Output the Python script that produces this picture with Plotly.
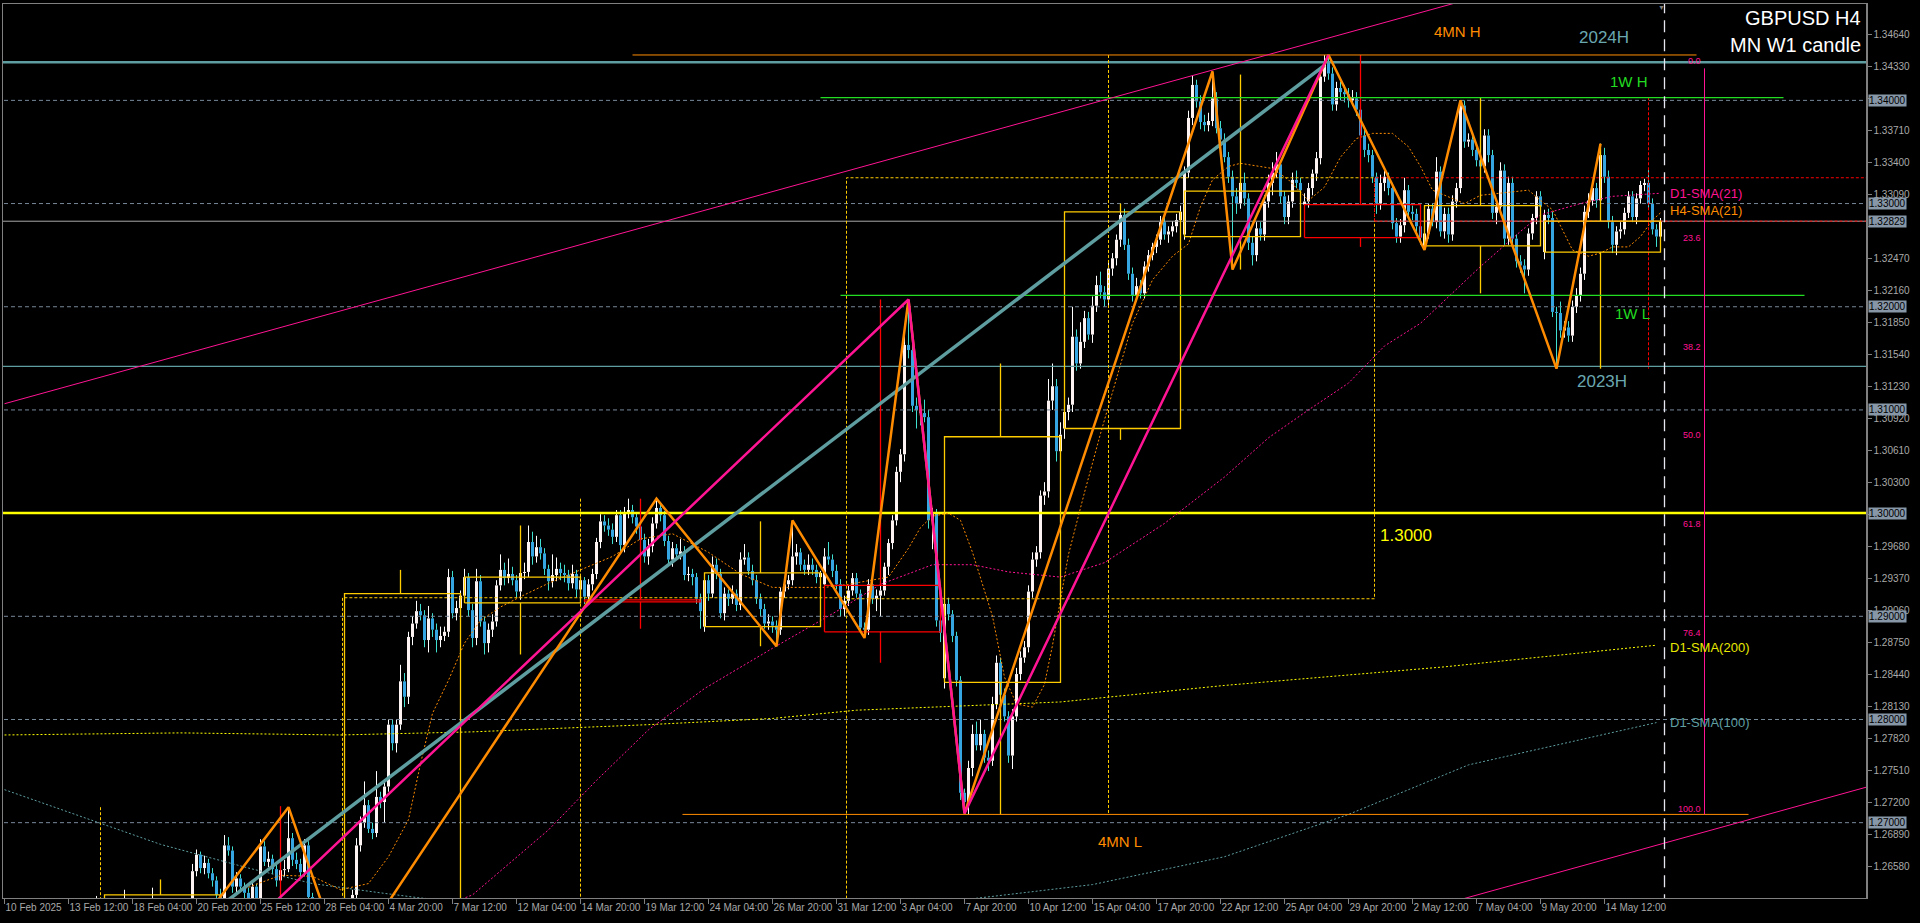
import plotly.graph_objects as go

# ---------------------------------------------------------------- data ----
FIRST_BAR = 20  # index of the first H4 bar in the lists below (bar 0 = "10 Feb 2025" tick)

opens = [
    1.2590,1.2598,1.2605,1.2612,1.2618,1.2608,1.2596,1.2590,1.2602,1.2610,
    1.2615,1.2620,1.2612,1.2600,1.2590,1.2582,1.2595,1.2608,1.2622,1.2610,
    1.2598,1.2580,1.2570,1.2585,1.2600,1.2612,1.2605,1.2620,1.2653,1.2669,
    1.2656,1.2661,1.2651,1.2644,1.2630,1.2620,1.2678,1.2673,1.2638,1.2646,
    1.2638,1.2632,1.2625,1.2638,1.2626,1.2677,1.2662,1.2665,1.2655,1.2644,
    1.2654,1.2655,1.2685,1.2664,1.2660,1.2652,1.2678,1.2628,1.2605,1.2595,
    1.2588,1.2600,1.2590,1.2578,1.2570,1.2565,1.2585,1.2610,1.2630,1.2678,
    1.2700,1.2717,1.2694,1.2690,1.2725,1.2720,1.2735,1.2795,1.2777,1.2795,
    1.2837,1.2822,1.2880,1.2893,1.2905,1.2901,1.2877,1.2898,1.2887,1.2877,
    1.2881,1.2885,1.2938,1.2903,1.2908,1.2920,1.2938,1.2906,1.2879,1.2934,
    1.2895,1.2874,1.2887,1.2895,1.2930,1.2945,1.2937,1.2941,1.2935,1.2924,
    1.2942,1.2943,1.2972,1.2958,1.2967,1.2961,1.2946,1.2934,1.2940,1.2946,
    1.2942,1.2940,1.2932,1.2941,1.2926,1.2935,1.2919,1.2931,1.2941,1.2972,
    1.2992,1.2988,1.2984,1.2977,1.2998,1.2969,1.3000,1.3003,1.2996,1.2987,
    1.2974,1.2958,1.2968,1.2990,1.3005,1.2998,1.2973,1.2955,1.2966,1.2960,
    1.2963,1.2940,1.2941,1.2938,1.2917,1.2890,1.2935,1.2922,1.2950,1.2941,
    1.2903,1.2922,1.2917,1.2922,1.2911,1.2955,1.2957,1.2944,1.2935,1.2917,
    1.2907,1.2893,1.2895,1.2891,1.2887,1.2924,1.2931,1.2935,1.2958,1.2962,
    1.2950,1.2945,1.2950,1.2945,1.2938,1.2931,1.2958,1.2955,1.2944,1.2931,
    1.2907,1.2915,1.2925,1.2937,1.2922,1.2889,1.2887,1.2931,1.2917,1.2920,
    1.2925,1.2948,1.2971,1.2993,1.3040,1.3057,1.3163,1.3158,1.3104,1.3100,
    1.3097,1.3093,1.2993,1.3000,1.2896,1.2840,1.2912,1.2902,1.2881,1.2838,
    1.2729,1.2720,1.2753,1.2786,1.2775,1.2786,1.2763,1.2760,1.2815,1.2855,
    1.2824,1.2803,1.2765,1.2803,1.2844,1.2860,1.2870,1.2924,1.2955,1.2962,
    1.3017,1.3021,1.3109,1.3123,1.3060,1.3082,1.3098,1.3105,1.3171,1.3145,
    1.3166,1.3189,1.3173,1.3201,1.3221,1.3214,1.3207,1.3237,1.3247,1.3265,
    1.3289,1.3260,1.3232,1.3211,1.3220,1.3213,1.3239,1.3250,1.3258,1.3265,
    1.3282,1.3270,1.3273,1.3278,1.3284,1.3270,1.3330,1.3383,1.3415,1.3399,
    1.3379,1.3376,1.3380,1.3402,1.3373,1.3362,1.3345,1.3326,1.3307,1.3300,
    1.3320,1.3305,1.3262,1.3250,1.3276,1.3270,1.3302,1.3320,1.3330,1.3338,
    1.3307,1.3287,1.3302,1.3323,1.3320,1.3299,1.3302,1.3315,1.3329,1.3344,
    1.3423,1.3437,1.3426,1.3396,1.3412,1.3408,1.3406,1.3400,1.3402,1.3391,
    1.3366,1.3352,1.3347,1.3326,1.3300,1.3320,1.3326,1.3315,1.3281,1.3268,
    1.3279,1.3313,1.3292,1.3290,1.3278,1.3259,1.3271,1.3295,1.3282,1.3331,
    1.3273,1.3290,1.3270,1.3302,1.3315,1.3395,1.3360,1.3362,1.3352,1.3342,
    1.3336,1.3366,1.3347,1.3291,1.3297,1.3332,1.3266,1.3320,1.3266,1.3244,
    1.3240,1.3236,1.3271,1.3286,1.3307,1.3253,1.3289,1.3286,1.3195,1.3194,
    1.3177,1.3180,1.3172,1.3200,1.3211,1.3232,1.3292,1.3303,1.3315,1.3303,
    1.3347,1.3326,1.3282,1.3260,1.3273,1.3275,1.3291,1.3307,1.3287,1.3305,
    1.3318,1.3320,1.3300,1.3275,1.3268,
]
highs = [
    1.2604,1.2610,1.2618,1.2629,1.2622,1.2612,1.2601,1.2607,1.2614,1.2620,
    1.2635,1.2624,1.2616,1.2604,1.2594,1.2599,1.2612,1.2637,1.2626,1.2615,
    1.2602,1.2586,1.2590,1.2605,1.2617,1.2616,1.2624,1.2660,1.2674,1.2672,
    1.2668,1.2665,1.2656,1.2648,1.2636,1.2688,1.2686,1.2677,1.2652,1.2650,
    1.2642,1.2637,1.2643,1.2641,1.2684,1.2682,1.2672,1.2669,1.2660,1.2660,
    1.2664,1.2715,1.2690,1.2671,1.2665,1.2684,1.2682,1.2632,1.2610,1.2600,
    1.2606,1.2605,1.2594,1.2582,1.2575,1.2592,1.2615,1.2635,1.2685,1.2706,
    1.2740,1.2722,1.2700,1.2750,1.2730,1.2742,1.2800,1.2800,1.2800,1.2853,
    1.2845,1.2885,1.2900,1.2915,1.2912,1.2906,1.2910,1.2903,1.2893,1.2890,
    1.2890,1.2946,1.2944,1.2915,1.2925,1.2946,1.2942,1.2912,1.2946,1.2940,
    1.2900,1.2893,1.2902,1.2935,1.2960,1.2952,1.2956,1.2948,1.2940,1.2948,
    1.2952,1.2988,1.2982,1.2978,1.2975,1.2966,1.2950,1.2960,1.2957,1.2952,
    1.2950,1.2945,1.2950,1.2945,1.2940,1.2938,1.2936,1.2946,1.2976,1.2999,
    1.2998,1.2995,1.2990,1.3003,1.3003,1.3006,1.3014,1.3008,1.3001,1.2994,
    1.2980,1.2975,1.2996,1.3014,1.3010,1.3002,1.2978,1.2972,1.2970,1.2975,
    1.2968,1.2948,1.2946,1.2942,1.2922,1.2942,1.2940,1.2958,1.2956,1.2946,
    1.2928,1.2926,1.2930,1.2926,1.2962,1.2970,1.2962,1.2950,1.2940,1.2922,
    1.2912,1.2902,1.2900,1.2896,1.2928,1.2936,1.2940,1.2993,1.2970,1.2966,
    1.2955,1.2960,1.2956,1.2950,1.2944,1.2966,1.2972,1.2960,1.2950,1.2936,
    1.2920,1.2930,1.2942,1.2942,1.2926,1.2894,1.2936,1.2936,1.2926,1.2930,
    1.2952,1.2975,1.2998,1.3045,1.3062,1.3180,1.3207,1.3165,1.3112,1.3106,
    1.3110,1.3100,1.3005,1.3004,1.2900,1.2935,1.2918,1.2906,1.2885,1.2842,
    1.2733,1.2760,1.2795,1.2798,1.2800,1.2790,1.2770,1.2822,1.2862,1.2860,
    1.2830,1.2808,1.2810,1.2850,1.2866,1.2876,1.2930,1.2962,1.2968,1.3022,
    1.3030,1.3130,1.3145,1.3130,1.3088,1.3104,1.3112,1.3200,1.3178,1.3185,
    1.3196,1.3195,1.3210,1.3230,1.3234,1.3220,1.3245,1.3252,1.3270,1.3300,
    1.3295,1.3266,1.3238,1.3228,1.3226,1.3244,1.3255,1.3262,1.3270,1.3288,
    1.3290,1.3278,1.3283,1.3290,1.3298,1.3336,1.3390,1.3424,1.3420,1.3405,
    1.3386,1.3388,1.3428,1.3408,1.3380,1.3368,1.3350,1.3332,1.3315,1.3335,
    1.3330,1.3310,1.3268,1.3282,1.3282,1.3308,1.3328,1.3340,1.3350,1.3342,
    1.3312,1.3308,1.3330,1.3332,1.3325,1.3310,1.3320,1.3333,1.3350,1.3430,
    1.3444,1.3444,1.3432,1.3418,1.3418,1.3415,1.3412,1.3410,1.3408,1.3396,
    1.3372,1.3358,1.3352,1.3330,1.3328,1.3332,1.3330,1.3320,1.3286,1.3285,
    1.3325,1.3318,1.3298,1.3295,1.3282,1.3276,1.3300,1.3300,1.3345,1.3336,
    1.3296,1.3296,1.3308,1.3320,1.3400,1.3400,1.3368,1.3368,1.3358,1.3356,
    1.3372,1.3372,1.3352,1.3300,1.3340,1.3338,1.3326,1.3326,1.3270,1.3250,
    1.3246,1.3276,1.3290,1.3312,1.3312,1.3294,1.3295,1.3292,1.3200,1.3205,
    1.3186,1.3186,1.3206,1.3218,1.3238,1.3298,1.3310,1.3322,1.3320,1.3358,
    1.3354,1.3332,1.3288,1.3278,1.3282,1.3296,1.3312,1.3312,1.3310,1.3322,
    1.3324,1.3333,1.3305,1.3280,1.3286,
]
lows = [
    1.2583,1.2592,1.2600,1.2606,1.2602,1.2590,1.2584,1.2586,1.2597,1.2604,
    1.2611,1.2606,1.2594,1.2584,1.2575,1.2578,1.2590,1.2603,1.2604,1.2592,
    1.2574,1.2562,1.2566,1.2580,1.2596,1.2598,1.2600,1.2615,1.2648,1.2651,
    1.2650,1.2646,1.2638,1.2624,1.2612,1.2616,1.2668,1.2632,1.2630,1.2633,
    1.2627,1.2620,1.2620,1.2621,1.2622,1.2658,1.2657,1.2650,1.2638,1.2640,
    1.2648,1.2652,1.2658,1.2655,1.2646,1.2648,1.2622,1.2598,1.2588,1.2582,
    1.2583,1.2585,1.2572,1.2563,1.2559,1.2560,1.2580,1.2605,1.2625,1.2672,
    1.2695,1.2690,1.2684,1.2686,1.2714,1.2700,1.2730,1.2770,1.2768,1.2790,
    1.2812,1.2815,1.2872,1.2888,1.2896,1.2870,1.2865,1.2880,1.2865,1.2870,
    1.2876,1.2880,1.2898,1.2896,1.2900,1.2915,1.2900,1.2870,1.2872,1.2890,
    1.2863,1.2865,1.2880,1.2890,1.2925,1.2930,1.2932,1.2930,1.2918,1.2916,
    1.2936,1.2938,1.2950,1.2952,1.2955,1.2940,1.2925,1.2928,1.2934,1.2935,
    1.2933,1.2925,1.2927,1.2918,1.2920,1.2912,1.2914,1.2925,1.2936,1.2966,
    1.2982,1.2978,1.2970,1.2972,1.2963,1.2962,1.2995,1.2990,1.2980,1.2966,
    1.2952,1.2950,1.2962,1.2985,1.2992,1.2968,1.2950,1.2948,1.2955,1.2955,
    1.2935,1.2934,1.2930,1.2912,1.2888,1.2885,1.2915,1.2918,1.2936,1.2898,
    1.2896,1.2910,1.2912,1.2905,1.2906,1.2950,1.2940,1.2930,1.2912,1.2900,
    1.2888,1.2887,1.2884,1.2871,1.2882,1.2918,1.2926,1.2930,1.2950,1.2944,
    1.2940,1.2940,1.2940,1.2932,1.2928,1.2925,1.2950,1.2938,1.2926,1.2900,
    1.2900,1.2910,1.2920,1.2918,1.2884,1.2879,1.2882,1.2912,1.2905,1.2900,
    1.2920,1.2940,1.2965,1.2988,1.3030,1.3050,1.3150,1.3098,1.3082,1.3085,
    1.3088,1.2985,1.2965,1.2890,1.2875,1.2830,1.2896,1.2875,1.2832,1.2722,
    1.2709,1.2708,1.2745,1.2770,1.2770,1.2758,1.2750,1.2755,1.2810,1.2818,
    1.2798,1.2758,1.2752,1.2798,1.2838,1.2855,1.2865,1.2918,1.2948,1.2956,
    1.3008,1.3015,1.3100,1.3050,1.3040,1.3072,1.3090,1.3098,1.3138,1.3140,
    1.3160,1.3168,1.3165,1.3195,1.3208,1.3200,1.3200,1.3230,1.3240,1.3258,
    1.3255,1.3226,1.3205,1.3205,1.3208,1.3208,1.3234,1.3245,1.3252,1.3260,
    1.3265,1.3262,1.3268,1.3272,1.3278,1.3265,1.3325,1.3376,1.3393,1.3372,
    1.3370,1.3370,1.3375,1.3368,1.3356,1.3340,1.3320,1.3236,1.3290,1.3295,
    1.3298,1.3255,1.3240,1.3244,1.3264,1.3264,1.3296,1.3308,1.3325,1.3300,
    1.3280,1.3280,1.3296,1.3315,1.3308,1.3290,1.3296,1.3308,1.3322,1.3338,
    1.3418,1.3420,1.3390,1.3390,1.3400,1.3398,1.3393,1.3395,1.3385,1.3360,
    1.3345,1.3340,1.3320,1.3290,1.3294,1.3312,1.3308,1.3275,1.3262,1.3262,
    1.3272,1.3285,1.3284,1.3272,1.3260,1.3255,1.3266,1.3278,1.3276,1.3268,
    1.3266,1.3262,1.3264,1.3296,1.3310,1.3354,1.3355,1.3346,1.3336,1.3320,
    1.3330,1.3340,1.3285,1.3280,1.3290,1.3260,1.3260,1.3260,1.3238,1.3233,
    1.3213,1.3230,1.3265,1.3280,1.3292,1.3246,1.3280,1.3190,1.3140,1.3170,
    1.3170,1.3166,1.3166,1.3194,1.3205,1.3226,1.3286,1.3298,1.3296,1.3298,
    1.3320,1.3276,1.3252,1.3250,1.3266,1.3270,1.3286,1.3282,1.3280,1.3300,
    1.3312,1.3295,1.3270,1.3258,1.3262,
]
closes = [
    1.2598,1.2605,1.2612,1.2618,1.2608,1.2596,1.2590,1.2602,1.2610,1.2615,
    1.2620,1.2612,1.2600,1.2590,1.2582,1.2595,1.2608,1.2622,1.2610,1.2598,
    1.2580,1.2570,1.2585,1.2600,1.2612,1.2605,1.2620,1.2653,1.2669,1.2656,
    1.2661,1.2651,1.2644,1.2630,1.2620,1.2678,1.2673,1.2638,1.2646,1.2638,
    1.2632,1.2625,1.2638,1.2626,1.2677,1.2662,1.2665,1.2655,1.2644,1.2654,
    1.2655,1.2685,1.2664,1.2660,1.2652,1.2678,1.2628,1.2605,1.2595,1.2588,
    1.2600,1.2590,1.2578,1.2570,1.2565,1.2585,1.2610,1.2630,1.2678,1.2700,
    1.2717,1.2694,1.2690,1.2725,1.2720,1.2735,1.2795,1.2777,1.2795,1.2837,
    1.2822,1.2880,1.2893,1.2905,1.2901,1.2877,1.2898,1.2887,1.2877,1.2881,
    1.2885,1.2938,1.2903,1.2908,1.2920,1.2938,1.2906,1.2879,1.2934,1.2895,
    1.2874,1.2887,1.2895,1.2930,1.2945,1.2937,1.2941,1.2935,1.2924,1.2942,
    1.2943,1.2972,1.2958,1.2967,1.2961,1.2946,1.2934,1.2940,1.2946,1.2942,
    1.2940,1.2932,1.2941,1.2926,1.2935,1.2919,1.2931,1.2941,1.2972,1.2992,
    1.2988,1.2984,1.2977,1.2998,1.2969,1.3000,1.3003,1.2996,1.2987,1.2974,
    1.2958,1.2968,1.2990,1.3005,1.2998,1.2973,1.2955,1.2966,1.2960,1.2963,
    1.2940,1.2941,1.2938,1.2917,1.2905,1.2935,1.2922,1.2950,1.2941,1.2903,
    1.2922,1.2917,1.2922,1.2911,1.2955,1.2957,1.2944,1.2935,1.2917,1.2907,
    1.2893,1.2895,1.2891,1.2887,1.2924,1.2931,1.2935,1.2958,1.2962,1.2950,
    1.2945,1.2950,1.2945,1.2938,1.2942,1.2958,1.2955,1.2944,1.2931,1.2907,
    1.2915,1.2925,1.2937,1.2922,1.2889,1.2887,1.2931,1.2917,1.2920,1.2925,
    1.2948,1.2971,1.2993,1.3040,1.3057,1.3163,1.3158,1.3104,1.3100,1.3097,
    1.3093,1.2993,1.3000,1.2896,1.2884,1.2912,1.2902,1.2881,1.2838,1.2729,
    1.2720,1.2753,1.2786,1.2775,1.2786,1.2763,1.2760,1.2815,1.2855,1.2824,
    1.2803,1.2765,1.2803,1.2844,1.2860,1.2870,1.2924,1.2955,1.2962,1.3017,
    1.3021,1.3109,1.3123,1.3060,1.3076,1.3098,1.3105,1.3171,1.3145,1.3166,
    1.3189,1.3173,1.3201,1.3221,1.3214,1.3207,1.3237,1.3247,1.3265,1.3289,
    1.3260,1.3232,1.3211,1.3220,1.3213,1.3239,1.3250,1.3258,1.3265,1.3282,
    1.3270,1.3273,1.3278,1.3284,1.3292,1.3330,1.3383,1.3415,1.3399,1.3379,
    1.3376,1.3380,1.3402,1.3373,1.3362,1.3345,1.3326,1.3307,1.3300,1.3320,
    1.3305,1.3262,1.3250,1.3276,1.3270,1.3302,1.3320,1.3330,1.3338,1.3307,
    1.3287,1.3302,1.3323,1.3320,1.3313,1.3302,1.3315,1.3329,1.3344,1.3423,
    1.3437,1.3426,1.3396,1.3412,1.3408,1.3406,1.3400,1.3402,1.3391,1.3366,
    1.3352,1.3347,1.3326,1.3300,1.3320,1.3326,1.3315,1.3281,1.3268,1.3279,
    1.3313,1.3292,1.3290,1.3278,1.3267,1.3271,1.3295,1.3282,1.3331,1.3273,
    1.3290,1.3270,1.3302,1.3315,1.3395,1.3360,1.3362,1.3352,1.3342,1.3336,
    1.3366,1.3347,1.3291,1.3297,1.3332,1.3266,1.3320,1.3266,1.3244,1.3240,
    1.3236,1.3271,1.3286,1.3307,1.3297,1.3289,1.3286,1.3195,1.3194,1.3177,
    1.3180,1.3172,1.3200,1.3211,1.3232,1.3292,1.3303,1.3315,1.3303,1.3347,
    1.3326,1.3282,1.3260,1.3273,1.3275,1.3291,1.3307,1.3287,1.3305,1.3318,
    1.3320,1.3300,1.3275,1.3268,1.3283,
]

time_tick_bars = list(range(0, 401, 16))
time_tick_labels = [
    "10 Feb 2025", "13 Feb 12:00", "18 Feb 04:00", "20 Feb 20:00", "25 Feb 12:00",
    "28 Feb 04:00", "4 Mar 20:00", "7 Mar 12:00", "12 Mar 04:00", "14 Mar 20:00",
    "19 Mar 12:00", "24 Mar 04:00", "26 Mar 20:00", "31 Mar 12:00", "3 Apr 04:00",
    "7 Apr 20:00", "10 Apr 12:00", "15 Apr 04:00", "17 Apr 20:00", "22 Apr 12:00",
    "25 Apr 04:00", "29 Apr 20:00", "2 May 12:00", "7 May 04:00", "9 May 20:00",
    "14 May 12:00",
]
price_ticks = [
    1.26580, 1.26890, 1.27200, 1.27510, 1.27820, 1.28130, 1.28440, 1.28750, 1.29060,
    1.29370, 1.29680, 1.29990, 1.30300, 1.30610, 1.30920, 1.31230, 1.31540, 1.31850,
    1.32160, 1.32470, 1.32780, 1.33090, 1.33400, 1.33710, 1.34020, 1.34330, 1.34640,
]
# price ticks whose labels are completely covered by a level box on the axis
price_ticks_hidden = [1.29990, 1.32780, 1.34020]

round_levels = [1.27, 1.28, 1.29, 1.30, 1.31, 1.32, 1.33, 1.34]
current_price = 1.32829
level_2024H = 1.34369
level_2023H = 1.31422
level_13000 = 1.3000
mn4_high, mn4_high_bars = 1.3444, [157, 423]
mn4_low, mn4_low_bars = 1.2708, [169.5, 436]
w1_high, w1_high_bars = 1.34026, [204, 444.75]
w1_low, w1_low_bars = 1.32111, [209, 450]

# weekly candles (solid boxes)
week_start = [25, 55, 85, 115, 145, 175, 205, 235, 265, 295, 325, 355, 385]
week_open = [1.2560, 1.2622, 1.2565, 1.2913, 1.2916, 1.2890, 1.2930, 1.2836, 1.3082, 1.3268, 1.3299, 1.3259, 1.3253]
week_close = [1.2630, 1.2577, 1.2922, 1.2938, 1.2914, 1.2942, 1.2885, 1.3074, 1.3292, 1.3312, 1.3267, 1.3298, 1.3283]
week_high = [1.2645, 1.2716, 1.2945, 1.2988, 1.3014, 1.2992, 1.3207, 1.3145, 1.3300, 1.3425, 1.3444, 1.3403, 1.3358]
week_low = [1.2540, 1.2559, 1.2559, 1.2863, 1.2888, 1.2871, 1.2855, 1.2708, 1.3071, 1.3236, 1.3258, 1.3213, 1.3140]

# monthly candles (dotted boxes)
month_first_bar = [-35, 85, 211, 343]
month_last_bar = [84, 210, 342, 474]
month_wick_bar = [24, 144, 276, 411]
month_open = [1.2395, 1.2577, 1.2917, 1.3325]
month_close = [1.2577, 1.2918, 1.3325, 1.3283]
month_high = [1.2715, 1.3014, 1.3444, 1.3403]
month_low = [1.2333, 1.2559, 1.2708, 1.3140]

# zigzags / trend lines (bar, price)
orange_zz_bars = [41, 71, 85, 163, 193, 197, 215, 226, 240, 302, 307, 331, 355, 364, 388, 399]
orange_zz_prices = [1.2562, 1.2715, 1.2559, 1.3014, 1.2871, 1.2993, 1.2879, 1.3207, 1.2709, 1.3428,
                    1.3236, 1.3444, 1.3255, 1.3400, 1.3140, 1.3358]
pink_zz_bars = [-11, 226, 240, 331]
pink_zz_prices = [1.2333, 1.3207, 1.2709, 1.3444]
teal_trend_bars = [20, 330]
teal_trend_prices = [1.2519, 1.3434]
channel_upper_bars = [0, 466]
channel_upper_prices = [1.3106, 1.3605]
channel_lower_bars = [330, 466]
channel_lower_prices = [1.2589, 1.2735]

# moving averages (bar, value)
d1_sma21_bars = [105, 117, 136, 148, 161, 175, 192, 209, 219, 232, 242, 251, 264, 275, 290, 305,
                 316, 326, 336, 345, 354, 369, 379, 384, 394, 402, 414]
d1_sma21 = [1.2612, 1.2630, 1.2693, 1.2741, 1.2790, 1.2830, 1.2869, 1.2907, 1.2931, 1.2950, 1.2950,
            1.2943, 1.2938, 1.2952, 1.2990, 1.3035, 1.3073, 1.3100, 1.3126, 1.3162, 1.3184, 1.3239,
            1.3273, 1.3289, 1.3300, 1.3307, 1.3310]
h4_sma21_bars = [40, 50, 60, 69, 77, 84, 91, 96, 101, 104, 107, 111, 115, 119, 124, 129, 136, 144,
                 152, 159, 167, 176, 184, 192, 205, 211, 217, 221, 226, 229, 232, 236, 239, 242,
                 247, 250, 253, 257, 260, 262, 266, 270, 274, 282, 287, 292, 296, 299, 302, 306,
                 309, 317, 321, 326, 330, 334, 338, 342, 347, 351, 354, 357, 365, 369, 381, 384,
                 387, 390, 392, 396, 399, 402, 406, 409, 412, 414]
h4_sma21 = [1.2585, 1.2610, 1.2636, 1.2649, 1.2648, 1.2635, 1.2641, 1.2667, 1.2703, 1.2757, 1.2806,
            1.2838, 1.2874, 1.2896, 1.2909, 1.2919, 1.2932, 1.2945, 1.2958, 1.2975, 1.2980, 1.2962,
            1.2941, 1.2928, 1.2928, 1.2931, 1.2935, 1.2938, 1.2966, 1.2986, 1.2997, 1.3000, 1.2993,
            1.2962, 1.2900, 1.2841, 1.2815, 1.2812, 1.2834, 1.2872, 1.2960, 1.3020, 1.3077, 1.3184,
            1.3226, 1.3249, 1.3261, 1.3297, 1.3323, 1.3336, 1.3339, 1.3334, 1.3323, 1.3303, 1.3316,
            1.3345, 1.3363, 1.3368, 1.3368, 1.3355, 1.3336, 1.3313, 1.3300, 1.3308, 1.3313, 1.3303,
            1.3294, 1.3271, 1.3255, 1.3249, 1.3252, 1.3258, 1.3258, 1.3268, 1.3284, 1.3291]
d1_sma200_bars = [0, 44, 84, 117, 161, 192, 213, 234, 264, 305, 360, 413]
d1_sma200 = [1.2785, 1.2787, 1.2785, 1.2788, 1.2795, 1.2801, 1.2809, 1.2812, 1.2817, 1.2833, 1.2851, 1.2872]
d1_sma100_bars = [0, 39, 61, 77, 94, 104, 140, 200, 237, 272, 305, 336, 366, 413]
d1_sma100 = [1.2732, 1.2679, 1.2656, 1.2641, 1.2632, 1.2627, 1.2615, 1.2612, 1.2624, 1.2640, 1.2667,
             1.2708, 1.2756, 1.2797]

# Fibonacci retracement (4-month range)
fib_bar = 425
fib_high, fib_low = 1.3443, 1.2708
fib_line_top = 1.3431
fib_levels = [0.0, 23.6, 38.2, 50.0, 61.8, 76.4, 100.0]
shift_marker_bar = 415

# ------------------------------------------------------------- layout ----
W, H = 1920, 923
ML, MR, MT, MB = 3, 54, 4, 25
X_RANGE = [-0.375, 465.375]
Y_RANGE = [1.26270, 1.34934]
PW, PH = W - ML - MR, H - MT - MB


def px_x(px):
    return (px - ML) / PW


def px_y(py):
    return 1 - (py - MT) / PH


ORANGE = "#FF8C00"
PINK = "#FF1493"
TEAL = "#5F9EA0"
GREEN = "#22DD22"
YELLOW = "#FFFF00"
GOLD = "#FFCC00"
GRID = "#778899"
TXT = "Arial, Liberation Sans, sans-serif"
AXF = "Liberation Sans, Arial, sans-serif"

fig = go.Figure()


def line(xs, ys, color, width=1.0, dash="solid"):
    fig.add_trace(go.Scatter(x=xs, y=ys, mode="lines", line=dict(color=color, width=width, dash=dash),
                             hoverinfo="skip", showlegend=False, connectgaps=False))


# ---- candles
bars = list(range(FIRST_BAR, FIRST_BAR + len(closes)))
body = {True: ([], [], []), False: ([], [], [])}
wick = {True: ([], []), False: ([], [])}
for b, o, h, l, c in zip(bars, opens, highs, lows, closes):
    up = c >= o
    top, bot = max(o, c), min(o, c)
    bx, bb, bh = body[up]
    bx.append(b)
    bb.append(bot)
    bh.append(max(top - bot, 0.00009))
    wx, wy = wick[up]
    wx += [b, b, None, b, b, None]
    wy += [h, top, None, bot, l, None]

line(wick[True][0], wick[True][1], "#FFFFFF", 1)
line(wick[False][0], wick[False][1], "#40E0D0", 1)
for up, col in ((True, "#FDF3F3"), (False, "#36A6E2")):
    bx, bb, bh = body[up]
    fig.add_trace(go.Bar(x=bx, y=bh, base=bb, width=0.75, marker=dict(color=col, line=dict(width=0)),
                         hoverinfo="skip", showlegend=False))

FULL = [X_RANGE[0] - 5, X_RANGE[1] + 5]

# ---- round-number dashed levels, price lines
for lv in round_levels:
    line(FULL, [lv, lv], GRID, 1, "4px,3px")
line(FULL, [level_13000] * 2, YELLOW, 2.5)
line(FULL, [level_2024H] * 2, TEAL, 2.5)
line(FULL, [level_2023H] * 2, TEAL, 1.2)
line(FULL, [current_price] * 2, "#A8A8A8", 1)

# ---- SMAs
line(d1_sma100_bars, d1_sma100, TEAL, 1, "2px,2px")
line(d1_sma200_bars, d1_sma200, YELLOW, 1, "2px,2px")
line(d1_sma21_bars, d1_sma21, PINK, 1, "2px,2px")
line(h4_sma21_bars, h4_sma21, ORANGE, 1, "2px,2px")

# ---- monthly candle boxes (dotted)
for s, e, m, o, c, h, l in zip(month_first_bar, month_last_bar, month_wick_bar,
                                month_open, month_close, month_high, month_low):
    top, bot = max(o, c), min(o, c)
    col = GOLD if c >= o else "#FF0000"
    line([s - 0.5, e + 0.5, e + 0.5, s - 0.5, s - 0.5], [bot, bot, top, top, bot], col, 1, "3px,2px")
    line([m, m], [h, l], col, 1, "3px,2px")

# ---- weekly candle boxes (solid)
for s, o, c, h, l in zip(week_start, week_open, week_close, week_high, week_low):
    e, m = s + 29, s + 14
    top, bot = max(o, c), min(o, c)
    col = GOLD if c >= o else "#FF0000"
    line([s, e, e, s, s, None, m, m, None, m, m], [bot, bot, top, top, bot, None, h, top, None, bot, l], col, 1.3)

# ---- 4MN / 1W levels
line(mn4_high_bars, [mn4_high] * 2, ORANGE, 1)
line(mn4_low_bars, [mn4_low] * 2, ORANGE, 1)
line(w1_high_bars, [w1_high] * 2, GREEN, 1.2)
line(w1_low_bars, [w1_low] * 2, GREEN, 1.2)

# ---- channel, trend lines, zigzags
line(channel_upper_bars, channel_upper_prices, PINK, 1)
line(channel_lower_bars, channel_lower_prices, PINK, 1)
line(teal_trend_bars, teal_trend_prices, TEAL, 3.5)
line(orange_zz_bars, orange_zz_prices, ORANGE, 2.5)
line(pink_zz_bars, pink_zz_prices, PINK, 2.5)

# ---- fibonacci vertical + chart-shift line
line([fib_bar, fib_bar], [fib_low, fib_line_top], PINK, 1)
line([shift_marker_bar, shift_marker_bar], [Y_RANGE[0] - 0.01, Y_RANGE[1] + 0.01], "#E6E6F0", 1.3, "12px,7px")

ann = []


def text(t, x, y, size, color, xanchor="center", xref="paper", yref="paper", yshift=0, font=TXT):
    ann.append(dict(text=t, x=x, y=y, xref=xref, yref=yref, xanchor=xanchor, yanchor="middle",
                    yshift=yshift, showarrow=False, font=dict(family=font, size=size, color=color)))


text("GBPUSD H4", px_x(1863), px_y(18), 20, "#FFFFFF", "right")
text("MN W1 candle", px_x(1863), px_y(45), 20, "#FFFFFF", "right")
text("4MN H", px_x(1457), px_y(31), 15, ORANGE)
text("2024H", px_x(1604), px_y(37), 17, "#6AA8B0")
text("1W H", px_x(1629), px_y(82), 15, GREEN)
text("1W L", px_x(1632), px_y(313), 15, GREEN)
text("2023H", px_x(1602), px_y(382), 17, "#6AA8B0")
text("1.3000", px_x(1406), px_y(535), 17, YELLOW)
text("4MN L", px_x(1120), px_y(841), 15, ORANGE)
text("D1-SMA(21)", px_x(1668), d1_sma21[-1], 13, PINK, "left", yref="y")
text("H4-SMA(21)", px_x(1668), h4_sma21[-1], 13, ORANGE, "left", yref="y", yshift=2)
text("D1-SMA(200)", px_x(1668), d1_sma200[-1], 13, "#E8E800", "left", yref="y", yshift=-2)
text("D1-SMA(100)", px_x(1668), d1_sma100[-1], 13, TEAL, "left", yref="y")
for pct in fib_levels:
    lvl = fib_high - pct / 100 * (fib_high - fib_low)
    text(f"{pct:.1f}", px_x(1703), lvl, 9, PINK, "right", yref="y", yshift=-5 + pct * 0.1, font=AXF)
text("\u25BC", px_x(1661), px_y(7), 7, "#808080")

# right-axis price boxes
for lv in round_levels + [current_price]:
    ann.append(dict(text=f"{lv:.5f}", x=px_x(1868), y=lv, xref="paper", yref="y", xanchor="left",
                    yanchor="middle", showarrow=False, bgcolor="#8797A8", borderpad=0,
                    font=dict(family=AXF, size=10, color="#000000")))

price_tick_text = ["" if any(abs(v - hv) < 1e-9 for hv in price_ticks_hidden) else f"{v:.5f}"
                   for v in price_ticks]

fig.update_layout(
    width=W, height=H, margin=dict(l=ML, r=MR, t=MT, b=MB, pad=0, autoexpand=False),
    paper_bgcolor="#000000", plot_bgcolor="#000000",
    barmode="overlay", showlegend=False, hovermode=False,
    annotations=ann,
    xaxis=dict(range=X_RANGE, showgrid=False, zeroline=False, showline=True, linecolor="#808080",
               linewidth=1, mirror=True, tickmode="array", tickvals=time_tick_bars,
               ticktext=time_tick_labels, ticks="outside", ticklen=5, tickcolor="#808080",
               tickangle=0, automargin=False,
               ticklabelposition="outside right", tickfont=dict(family=AXF, size=10, color="#A9A9A9")),
    yaxis=dict(range=Y_RANGE, side="right", showgrid=False, zeroline=False, showline=True,
               linecolor="#808080", linewidth=1.5, mirror=True, tickmode="array", tickvals=price_ticks,
               ticktext=price_tick_text, ticks="outside", ticklen=4, automargin=False,
               tickcolor="#808080", tickfont=dict(family=AXF, size=10, color="#A9A9A9")),
)

fig.write_html("out.html", config={"displayModeBar": False, "staticPlot": True},
               post_script="document.body.style.margin='0';document.body.style.overflow='hidden';")
